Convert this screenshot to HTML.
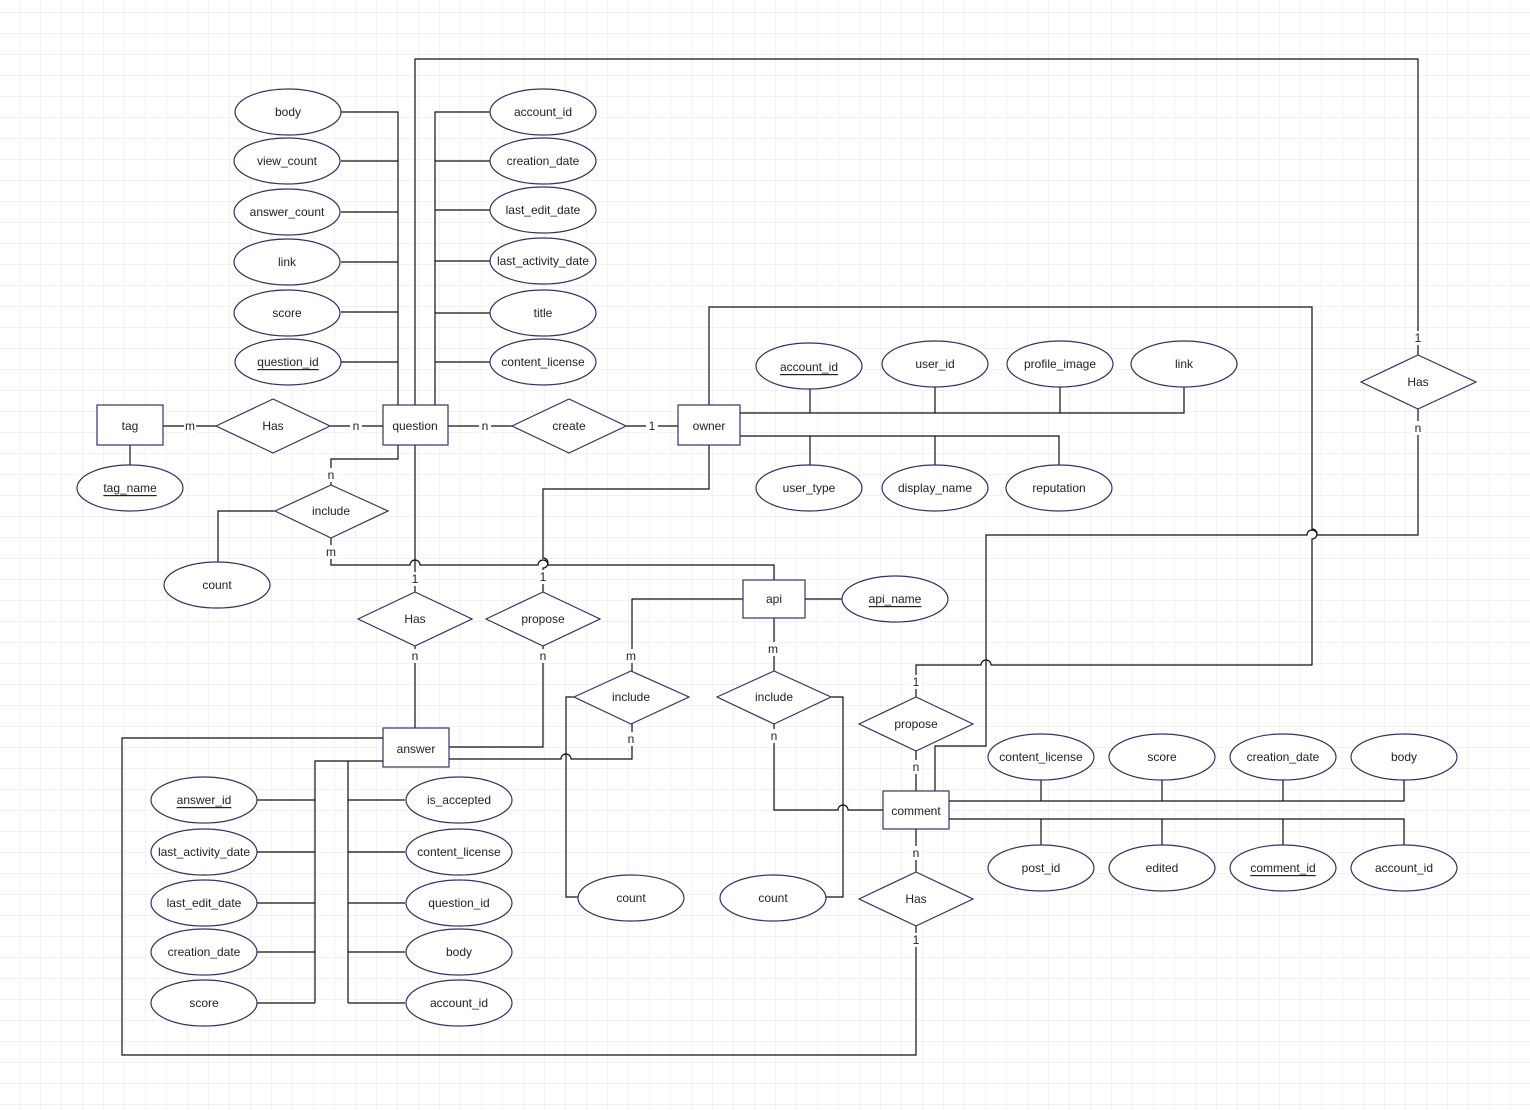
<!DOCTYPE html>
<html><head><meta charset="utf-8"><style>
html,body{margin:0;padding:0;background:#fff}
svg{display:block}
text{font-family:"Liberation Sans","DejaVu Sans",sans-serif;font-size:12px;fill:#222;text-anchor:middle;dominant-baseline:central}
.e{fill:#fff;stroke:#2f3560;stroke-width:1.2}
.l{fill:none;stroke:#111;stroke-width:1.2}
.lb{fill:#fff;stroke:none}
</style></head><body>
<svg width="1530" height="1110" viewBox="0 0 1530 1110" xmlns="http://www.w3.org/2000/svg">
<defs>
<pattern id="g" x="20" y="13" width="21" height="21" patternUnits="userSpaceOnUse">
<path d="M21 0V21M0 21H21" fill="none" stroke="#e4e4e4" stroke-width="1"/>
</pattern>
</defs>
<rect width="1530" height="1110" fill="url(#g)"/>

<!-- connector lines -->
<g class="l">
<!-- question left attrs -->
<path d="M341 112H398V405M341 161H398M341 212H398M341 262H398M341 312H398M341 362H398"/>
<!-- question right attrs -->
<path d="M490 112H435V405M490 161H435M490 210H435M490 261H435M490 313H435M490 362H435"/>
<!-- question to Has 1418 -->
<path d="M415 405V59H1418V355"/>
<!-- tag - Has - question -->
<path d="M163 426H216M330 426H383M130 445V466"/>
<!-- question - create - owner -->
<path d="M448 426H512M626 426H678"/>
<!-- owner attrs -->
<path d="M740 413H1184V386M810 389V413M935 386V413M1060 386V413"/>
<path d="M740 436H1059V466M810 436V466M935 436V466"/>
<!-- owner top to propose comment -->
<path d="M709 405V307H1312V529a5 5 0 0 1 0 10V665H991a5 5 0 0 0 -10 0H916V697"/>
<!-- owner bottom to propose answer -->
<path d="M709 445V489H543V558a5 5 0 0 1 0 10V592"/>
<!-- question bottom to include -->
<path d="M398 445V459H331V485"/>
<!-- include bottom to api -->
<path d="M331 538V565H410a5 5 0 0 1 10 0H538a5 5 0 0 1 10 0H774V580"/>
<!-- question to Has(415) -->
<path d="M415 445V592"/>
<!-- include left to count -->
<path d="M275 511H218V563"/>
<!-- Has to answer -->
<path d="M415 646V729"/>
<!-- propose to answer -->
<path d="M543 646V747H449"/>
<!-- api -->
<path d="M805 599H842M743 599H632V671M774 618V671"/>
<!-- include 631 -->
<path d="M632 724V759H571a5 5 0 0 0 -10 0H449"/>
<path d="M574 697H566V897H578"/>
<!-- include 774 -->
<path d="M774 724V810H838a5 5 0 0 1 10 0H883"/>
<path d="M831 697H843V897H826"/>
<!-- propose to comment -->
<path d="M916 751V791"/>
<!-- comment top to Has 1418 -->
<path d="M935 791V746H986V535H1307a5 5 0 0 1 10 0H1418V409"/>
<!-- comment attrs -->
<path d="M949 801H1404V779M1041 779V801M1162 779V801M1283 779V801"/>
<path d="M949 819H1404V847M1041 819V847M1162 819V847M1283 819V847"/>
<!-- comment to Has to answer -->
<path d="M916 829V872M916 926V1055H122V738H383"/>
<!-- answer attrs -->
<path d="M383 761H315V1003M257 800H315M257 852H315M257 903H315M257 952H315M257 1003H315"/>
<path d="M348 761V1003M405 800H348M405 852H348M405 903H348M405 952H348M405 1003H348"/>
</g>

<!-- cardinality labels -->
<g>
<rect class="lb" x="184" y="419" width="12" height="14"/><text x="190" y="426">m</text>
<rect class="lb" x="350" y="419" width="12" height="14"/><text x="356" y="426">n</text>
<rect class="lb" x="479" y="419" width="12" height="14"/><text x="485" y="426">n</text>
<rect class="lb" x="646" y="419" width="12" height="14"/><text x="652" y="426">1</text>
<rect class="lb" x="1412" y="331" width="12" height="14"/><text x="1418" y="338">1</text>
<rect class="lb" x="1412" y="421" width="12" height="14"/><text x="1418" y="428">n</text>
<rect class="lb" x="325" y="468" width="12" height="14"/><text x="331" y="475">n</text>
<rect class="lb" x="325" y="545" width="12" height="14"/><text x="331" y="552">m</text>
<rect class="lb" x="409" y="572" width="12" height="14"/><text x="415" y="579">1</text>
<rect class="lb" x="537" y="570" width="12" height="14"/><text x="543" y="577">1</text>
<rect class="lb" x="409" y="649" width="12" height="14"/><text x="415" y="656">n</text>
<rect class="lb" x="537" y="649" width="12" height="14"/><text x="543" y="656">n</text>
<rect class="lb" x="625" y="649" width="12" height="14"/><text x="631" y="656">m</text>
<rect class="lb" x="767" y="642" width="12" height="14"/><text x="773" y="649">m</text>
<rect class="lb" x="625" y="732" width="12" height="14"/><text x="631" y="739">n</text>
<rect class="lb" x="768" y="729" width="12" height="14"/><text x="774" y="736">n</text>
<rect class="lb" x="910" y="675" width="12" height="14"/><text x="916" y="682">1</text>
<rect class="lb" x="910" y="760" width="12" height="14"/><text x="916" y="767">n</text>
<rect class="lb" x="910" y="846" width="12" height="14"/><text x="916" y="853">n</text>
<rect class="lb" x="910" y="933" width="12" height="14"/><text x="916" y="940">1</text>
</g>

<!-- entities -->
<g>
<rect class="e" x="97" y="405" width="66" height="40"/><text x="130" y="426">tag</text>
<rect class="e" x="383" y="405" width="65" height="40"/><text x="415" y="426">question</text>
<rect class="e" x="678" y="405" width="62" height="40"/><text x="709" y="426">owner</text>
<rect class="e" x="743" y="580" width="62" height="38"/><text x="774" y="599">api</text>
<rect class="e" x="383" y="728" width="66" height="39"/><text x="416" y="749">answer</text>
<rect class="e" x="883" y="791" width="66" height="38"/><text x="916" y="811">comment</text>
</g>

<!-- relationships -->
<g>
<path class="e" d="M216 426L273 399L330 426L273 453Z"/><text x="273" y="426">Has</text>
<path class="e" d="M512 426L569 399L626 426L569 453Z"/><text x="569" y="426">create</text>
<path class="e" d="M275 511L331 485L388 511L331 538Z"/><text x="331" y="511">include</text>
<path class="e" d="M358 619L415 592L472 619L415 646Z"/><text x="415" y="619">Has</text>
<path class="e" d="M486 619L543 592L600 619L543 646Z"/><text x="543" y="619">propose</text>
<path class="e" d="M574 697L631 671L689 697L631 724Z"/><text x="631" y="697">include</text>
<path class="e" d="M717 697L774 671L831 697L774 724Z"/><text x="774" y="697">include</text>
<path class="e" d="M859 724L916 697L973 724L916 751Z"/><text x="916" y="724">propose</text>
<path class="e" d="M859 899L916 872L973 899L916 926Z"/><text x="916" y="899">Has</text>
<path class="e" d="M1361 382L1418 355L1476 382L1418 409Z"/><text x="1418" y="382">Has</text>
</g>

<!-- attributes -->
<g>
<ellipse class="e" cx="288" cy="112" rx="53" ry="23"/><text x="288" y="112">body</text>
<ellipse class="e" cx="287" cy="161" rx="53" ry="23"/><text x="287" y="161">view_count</text>
<ellipse class="e" cx="287" cy="212" rx="53" ry="23"/><text x="287" y="212">answer_count</text>
<ellipse class="e" cx="287" cy="262" rx="53" ry="23"/><text x="287" y="262">link</text>
<ellipse class="e" cx="287" cy="313" rx="53" ry="23"/><text x="287" y="313">score</text>
<ellipse class="e" cx="288" cy="362" rx="53" ry="23"/><text x="288" y="362" text-decoration="underline">question_id</text>

<ellipse class="e" cx="543" cy="112" rx="53" ry="23"/><text x="543" y="112">account_id</text>
<ellipse class="e" cx="543" cy="161" rx="53" ry="23"/><text x="543" y="161">creation_date</text>
<ellipse class="e" cx="543" cy="210" rx="53" ry="23"/><text x="543" y="210">last_edit_date</text>
<ellipse class="e" cx="543" cy="261" rx="53" ry="23"/><text x="543" y="261">last_activity_date</text>
<ellipse class="e" cx="543" cy="313" rx="53" ry="23"/><text x="543" y="313">title</text>
<ellipse class="e" cx="543" cy="362" rx="53" ry="23"/><text x="543" y="362">content_license</text>

<ellipse class="e" cx="130" cy="488" rx="53" ry="23"/><text x="130" y="488" text-decoration="underline">tag_name</text>
<ellipse class="e" cx="217" cy="585" rx="53" ry="23"/><text x="217" y="585">count</text>

<ellipse class="e" cx="809" cy="366" rx="53" ry="23"/><text x="809" y="367" text-decoration="underline">account_id</text>
<ellipse class="e" cx="935" cy="364" rx="53" ry="23"/><text x="935" y="364">user_id</text>
<ellipse class="e" cx="1060" cy="364" rx="53" ry="23"/><text x="1060" y="364">profile_image</text>
<ellipse class="e" cx="1184" cy="364" rx="53" ry="23"/><text x="1184" y="364">link</text>
<ellipse class="e" cx="809" cy="488" rx="53" ry="23"/><text x="809" y="488">user_type</text>
<ellipse class="e" cx="935" cy="488" rx="53" ry="23"/><text x="935" y="488">display_name</text>
<ellipse class="e" cx="1059" cy="488" rx="53" ry="23"/><text x="1059" y="488">reputation</text>

<ellipse class="e" cx="895" cy="599" rx="53" ry="23"/><text x="895" y="599" text-decoration="underline">api_name</text>
<ellipse class="e" cx="631" cy="898" rx="53" ry="23"/><text x="631" y="898">count</text>
<ellipse class="e" cx="773" cy="898" rx="53" ry="23"/><text x="773" y="898">count</text>

<ellipse class="e" cx="1041" cy="757" rx="53" ry="23"/><text x="1041" y="757">content_license</text>
<ellipse class="e" cx="1162" cy="757" rx="53" ry="23"/><text x="1162" y="757">score</text>
<ellipse class="e" cx="1283" cy="757" rx="53" ry="23"/><text x="1283" y="757">creation_date</text>
<ellipse class="e" cx="1404" cy="757" rx="53" ry="23"/><text x="1404" y="757">body</text>
<ellipse class="e" cx="1041" cy="868" rx="53" ry="23"/><text x="1041" y="868">post_id</text>
<ellipse class="e" cx="1162" cy="868" rx="53" ry="23"/><text x="1162" y="868">edited</text>
<ellipse class="e" cx="1283" cy="868" rx="53" ry="23"/><text x="1283" y="868" text-decoration="underline">comment_id</text>
<ellipse class="e" cx="1404" cy="868" rx="53" ry="23"/><text x="1404" y="868">account_id</text>

<ellipse class="e" cx="204" cy="800" rx="53" ry="23"/><text x="204" y="800" text-decoration="underline">answer_id</text>
<ellipse class="e" cx="204" cy="852" rx="53" ry="23"/><text x="204" y="852">last_activity_date</text>
<ellipse class="e" cx="204" cy="903" rx="53" ry="23"/><text x="204" y="903">last_edit_date</text>
<ellipse class="e" cx="204" cy="952" rx="53" ry="23"/><text x="204" y="952">creation_date</text>
<ellipse class="e" cx="204" cy="1003" rx="53" ry="23"/><text x="204" y="1003">score</text>
<ellipse class="e" cx="459" cy="800" rx="53" ry="23"/><text x="459" y="800">is_accepted</text>
<ellipse class="e" cx="459" cy="852" rx="53" ry="23"/><text x="459" y="852">content_license</text>
<ellipse class="e" cx="459" cy="903" rx="53" ry="23"/><text x="459" y="903">question_id</text>
<ellipse class="e" cx="459" cy="952" rx="53" ry="23"/><text x="459" y="952">body</text>
<ellipse class="e" cx="459" cy="1003" rx="53" ry="23"/><text x="459" y="1003">account_id</text>
</g>
</svg>
</body></html>
